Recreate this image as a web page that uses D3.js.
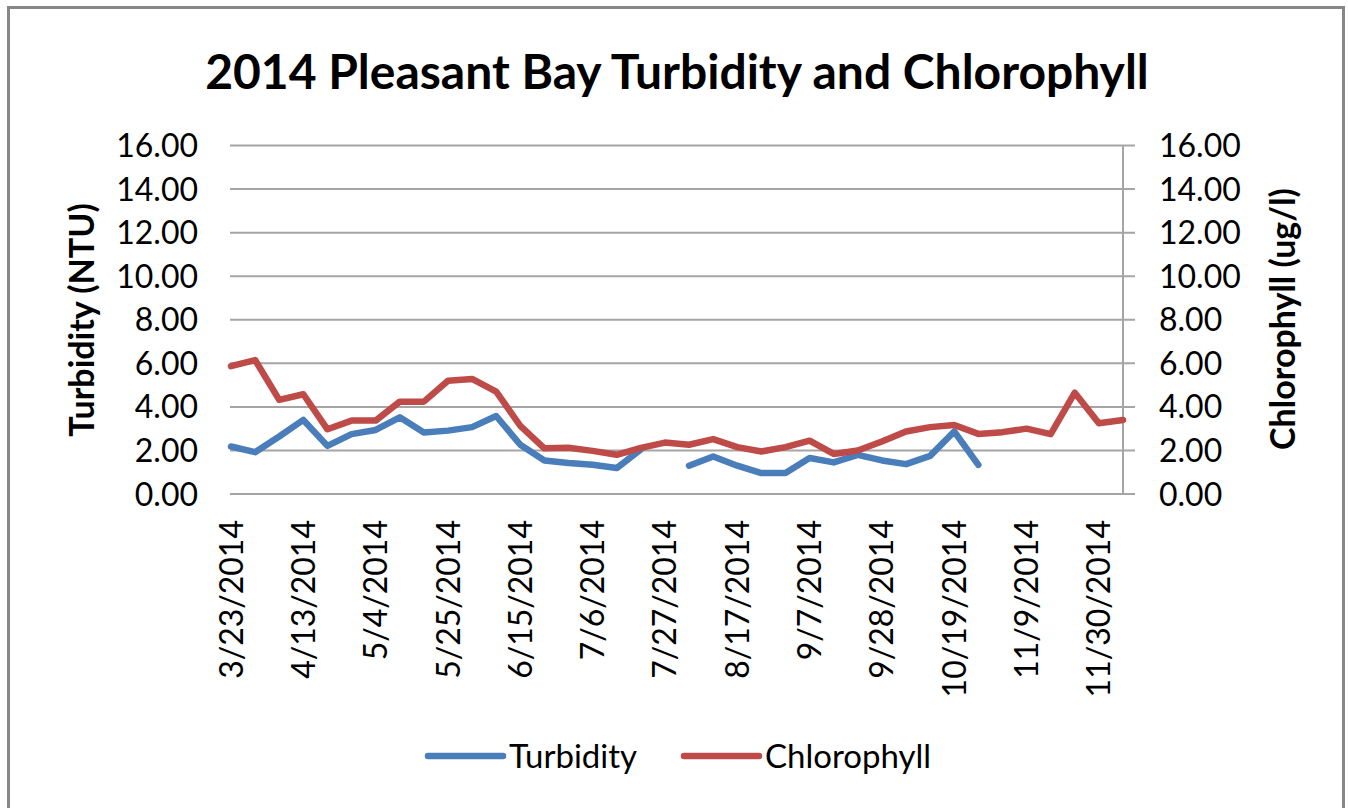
<!DOCTYPE html>
<html>
<head>
<meta charset="utf-8">
<script src="https://cdn.jsdelivr.net/npm/d3@7"></script>
<style>
  body { margin: 0; background: #fff; }
  svg { display: block; }
  text { font-family: Lato, "Open Sans", sans-serif; fill: #000; }
</style>
</head>
<body>
<svg width="1348" height="808"></svg>
<script>
var svg = d3.select("svg"),
    width = +svg.attr("width"),
    height = +svg.attr("height");

// weekly sample dates
var dates = ["3/23/2014","3/30/2014","4/6/2014","4/13/2014","4/20/2014","4/27/2014",
  "5/4/2014","5/11/2014","5/18/2014","5/25/2014","6/1/2014","6/8/2014","6/15/2014",
  "6/22/2014","6/29/2014","7/6/2014","7/13/2014","7/20/2014","7/27/2014","8/3/2014",
  "8/10/2014","8/17/2014","8/24/2014","8/31/2014","9/7/2014","9/14/2014","9/21/2014",
  "9/28/2014","10/5/2014","10/12/2014","10/19/2014","10/26/2014","11/2/2014",
  "11/9/2014","11/16/2014","11/23/2014","11/30/2014","12/7/2014"];

var turbidity = [2.18,1.92,2.64,3.40,2.21,2.75,2.94,3.52,2.82,2.91,3.07,3.58,2.26,
  1.54,1.42,1.34,1.19,2.05,null,1.30,1.72,1.30,0.96,0.96,1.65,1.45,1.80,1.54,1.37,
  1.75,2.87,1.34,null,null,null,null,null,null];

var chlorophyll = [5.87,6.15,4.32,4.58,2.97,3.37,3.37,4.24,4.24,5.20,5.28,4.70,3.13,
  2.10,2.12,1.98,1.80,2.12,2.36,2.26,2.52,2.15,1.95,2.15,2.45,1.84,2.00,2.41,2.87,
  3.07,3.17,2.76,2.84,3.00,2.75,4.65,3.25,3.40];

var tick_dates = ["3/23/2014","4/13/2014","5/4/2014","5/25/2014","6/15/2014","7/6/2014",
  "7/27/2014","8/17/2014","9/7/2014","9/28/2014","10/19/2014","11/9/2014","11/30/2014"];

var y_ticks = [0,2,4,6,8,10,12,14,16];

var parse = d3.utcParse("%m/%d/%Y"),
    fmt = function(d) { return (d.getUTCMonth()+1) + "/" + d.getUTCDate() + "/" + d.getUTCFullYear(); };

var x0 = 231, x1 = 1123, y0 = 494, y1 = 145.5;

var x = d3.scaleUtc()
    .domain([parse(dates[0]), parse(dates[dates.length-1])])
    .range([x0, x1]);
var yL = d3.scaleLinear().domain([0, 16]).range([y0, y1]);
var yR = d3.scaleLinear().domain([0, 16]).range([y0, y1]);

// outer frame
svg.append("rect")
    .attr("x", 8.5).attr("y", 7.5)
    .attr("width", 1335).attr("height", 820)
    .attr("fill", "none")
    .attr("stroke", "#878787")
    .attr("stroke-width", 3);

// title
svg.append("text")
    .attr("x", 677).attr("y", 89)
    .attr("text-anchor", "middle")
    .style("font-weight", "bold")
    .style("font-size", "48px")
    .text("2014 Pleasant Bay Turbidity and Chlorophyll");

// gridlines
svg.append("g")
    .selectAll("line")
    .data(y_ticks)
    .enter().append("line")
    .attr("x1", x0 - 1).attr("x2", x1 + 12)
    .attr("y1", function(d){ return yL(d); })
    .attr("y2", function(d){ return yL(d); })
    .attr("stroke", "#a5a5a5")
    .attr("stroke-width", 2);

// right axis line
svg.append("line")
    .attr("x1", x1).attr("x2", x1)
    .attr("y1", y1).attr("y2", y0)
    .attr("stroke", "#a5a5a5")
    .attr("stroke-width", 2);

// left tick labels
svg.append("g")
    .selectAll("text")
    .data(y_ticks)
    .enter().append("text")
    .attr("x", 198)
    .attr("y", function(d){ return yL(d); })
    .attr("dy", "0.36em")
    .attr("text-anchor", "end")
    .style("font-size", "32px")
    .text(function(d){ return d3.format(".2f")(d); });

// right tick labels
svg.append("g")
    .selectAll("text")
    .data(y_ticks)
    .enter().append("text")
    .attr("x", 1159)
    .attr("y", function(d){ return yR(d); })
    .attr("dy", "0.36em")
    .attr("text-anchor", "start")
    .style("font-size", "32px")
    .text(function(d){ return d3.format(".2f")(d); });

// x tick labels
svg.append("g")
    .selectAll("text")
    .data(tick_dates)
    .enter().append("text")
    .attr("transform", function(d){ return "translate(" + x(parse(d)) + ",520) rotate(-90)"; })
    .attr("dy", "0.36em")
    .attr("text-anchor", "end")
    .style("font-size", "32px")
    .text(function(d){ return fmt(parse(d)); });

// axis titles
svg.append("text")
    .attr("transform", "translate(82,320) rotate(-90)")
    .attr("dy", "0.36em")
    .attr("text-anchor", "middle")
    .style("font-weight", "bold")
    .style("font-size", "34px")
    .text("Turbidity (NTU)");

svg.append("text")
    .attr("transform", "translate(1283,319) rotate(-90)")
    .attr("dy", "0.36em")
    .attr("text-anchor", "middle")
    .style("font-weight", "bold")
    .style("font-size", "34px")
    .text("Chlorophyll (ug/l)");

// lines
var series = [
  {name: "Turbidity", values: turbidity, color: "#4a7ebb", y: yL},
  {name: "Chlorophyll", values: chlorophyll, color: "#be4b48", y: yR}
];

series.forEach(function(s) {
  var line = d3.line()
      .defined(function(d){ return d != null; })
      .x(function(d, i){ return x(parse(dates[i])); })
      .y(function(d){ return s.y(d); });
  svg.append("path")
      .datum(s.values)
      .attr("d", line)
      .attr("fill", "none")
      .attr("stroke", s.color)
      .attr("stroke-width", 6.5)
      .attr("stroke-linejoin", "round")
      .attr("stroke-linecap", "round");
});

// legend
var legend_x = [428, 684];
var lg = svg.append("g")
    .selectAll("g")
    .data(series)
    .enter().append("g")
    .attr("transform", function(d, i){ return "translate(" + legend_x[i] + ",756)"; });
lg.append("line")
    .attr("x1", 0).attr("x2", 75)
    .attr("stroke", function(d){ return d.color; })
    .attr("stroke-width", 6.5)
    .attr("stroke-linecap", "round");
lg.append("text")
    .attr("x", 81)
    .attr("dy", "0.36em")
    .style("font-size", "33px")
    .text(function(d){ return d.name; });
</script>
</body>
</html>
